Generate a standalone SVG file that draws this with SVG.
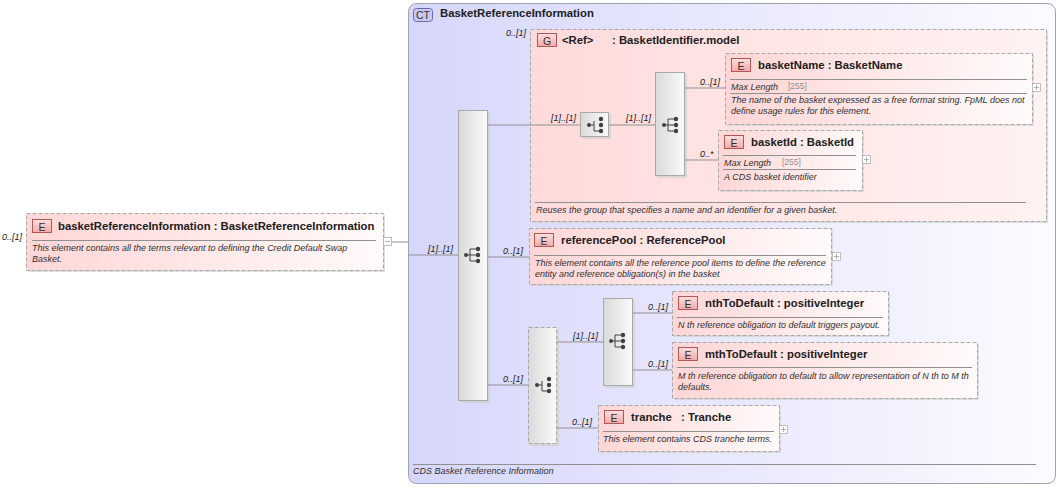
<svg xmlns="http://www.w3.org/2000/svg" xmlns:xlink="http://www.w3.org/1999/xlink" width="1060" height="487" viewBox="0 0 1060 487">
<defs>
<linearGradient id="ctGrad" x1="0" y1="0" x2="1" y2="0"><stop offset="0" stop-color="#d6d6fb"/><stop offset="1" stop-color="#fbfbff"/></linearGradient>
<linearGradient id="elGrad" x1="0" y1="0" x2="1" y2="0"><stop offset="0" stop-color="#ffd6d6"/><stop offset="1" stop-color="#fffafa"/></linearGradient>
<linearGradient id="grpGrad" x1="0" y1="0" x2="1" y2="0"><stop offset="0" stop-color="#ffdada"/><stop offset="1" stop-color="#fff2f2"/></linearGradient>
<linearGradient id="seqGrad" x1="0" y1="0" x2="1" y2="0"><stop offset="0" stop-color="#dadada"/><stop offset="1" stop-color="#fafafa"/></linearGradient>
<linearGradient id="badgeGrad" x1="0" y1="0" x2="0" y2="1"><stop offset="0" stop-color="#ffe0e0"/><stop offset="1" stop-color="#f4a8a8"/></linearGradient>
<g id="seqIcon" fill="#404040" stroke="#404040" stroke-width="1">
<line x1="-7" y1="0" x2="-3" y2="0"/><line x1="-3" y1="-6" x2="-3" y2="6"/>
<line x1="-3" y1="-6" x2="5" y2="-6"/><line x1="-3" y1="0" x2="5" y2="0"/><line x1="-3" y1="6" x2="5" y2="6"/>
<circle cx="-7" cy="0" r="2" stroke="none"/><circle cx="5" cy="-6" r="2.2" stroke="none"/><circle cx="5" cy="0" r="2.2" stroke="none"/><circle cx="5" cy="6" r="2.2" stroke="none"/>
</g>
<g id="choIcon" fill="#404040" stroke="#404040" stroke-width="1">
<line x1="-6" y1="0" x2="-1" y2="0"/><line x1="-1" y1="-4" x2="-1" y2="6"/><line x1="-1" y1="6" x2="6" y2="6"/>
<circle cx="-6" cy="0" r="2" stroke="none"/><circle cx="6" cy="-6" r="2.2" stroke="none"/><circle cx="6" cy="0" r="2.2" stroke="none"/><circle cx="6" cy="6" r="2.2" stroke="none"/>
</g>
</defs>
<style>
text{font-family:"Liberation Sans",Arial,sans-serif;fill:#202020}
.title{font-size:11.3px;font-weight:bold}
.desc{font-size:9px;font-style:italic;fill:#303030}
.card{font-size:9px;font-style:italic;fill:#202020}
.grey{font-size:8.5px;fill:#909090}
.badge{font-size:10.5px;fill:#303030}
.el{fill:url(#elGrad);stroke:#a8a8a8;stroke-dasharray:4,2;stroke-width:1}
.shadow{fill:#d0d0d0;opacity:0.7}
.sep{stroke:#909090;stroke-width:1}
.eb{fill:url(#badgeGrad);stroke:#b05858;stroke-width:1}
.seq{fill:url(#seqGrad);stroke:#a8a8a8;stroke-width:1}
.cho{fill:url(#seqGrad);stroke:#a8a8a8;stroke-width:1;stroke-dasharray:4,2}
.pm{fill:#ffffff;stroke:#b0b0b0;stroke-width:0.8}
.pml{stroke:#a0a0a0;stroke-width:0.8}
.conn{stroke:#909090;stroke-width:1;fill:none}
</style>

<g id="ct-BasketReferenceInformation">
<rect x="408.5" y="3.5" width="647" height="480" rx="8" fill="url(#ctGrad)" stroke="#a0a0b4" stroke-width="1"/>
<rect x="413.5" y="8.5" width="19" height="13" rx="3" fill="#c8c8f0" stroke="#6a6aa0"/>
<text x="423" y="18.5" class="badge" text-anchor="middle">CT</text>
<text x="440" y="17" class="title">BasketReferenceInformation</text>
<line x1="413" y1="464.5" x2="1036" y2="464.5" class="sep"/>
<text x="413" y="474" class="desc">CDS Basket Reference Information</text>
</g>

<g id="el-basketReferenceInformation">
<rect x="28" y="215" width="357" height="57" class="shadow"/>
<rect x="26.5" y="213.5" width="357" height="57" class="el"/>
<rect x="32.5" y="219.5" width="19" height="13" class="eb"/>
<text x="42" y="230.5" class="badge" text-anchor="middle">E</text>
<text x="58" y="230" class="title">basketReferenceInformation : BasketReferenceInformation</text>
<line x1="32" y1="240.5" x2="376" y2="240.5" class="sep"/>
<text x="32" y="251" class="desc">This element contains all the terms relevant to defining the Credit Default Swap</text>
<text x="32" y="262" class="desc">Basket.</text>
<text x="2" y="240" class="card">0..[1]</text>
<rect x="383.5" y="237.5" width="8" height="8" class="pm"/>
<line x1="385" y1="241.5" x2="390" y2="241.5" class="pml"/>
</g>

<g id="seq-main">
<rect x="460" y="112" width="30" height="291" class="shadow"/>
<rect x="458.5" y="110.5" width="29" height="290" class="seq"/>
<use xlink:href="#seqIcon" x="473" y="255"/>
<text x="428" y="252" class="card">[1]..[1]</text>
</g>

<g id="grp-BasketIdentifier">
<rect x="532" y="31" width="516" height="192" class="shadow"/>
<rect x="530.5" y="29.5" width="516" height="192" fill="url(#grpGrad)" stroke="#a8a8a8" stroke-dasharray="4,2"/>
<text x="506" y="36" class="card">0..[1]</text>
<rect x="537.5" y="33.5" width="19" height="13" class="eb"/>
<text x="547" y="44.5" class="badge" text-anchor="middle">G</text>
<text x="562" y="43.5" class="title">&lt;Ref&gt;</text>
<text x="612" y="43.5" class="title">: BasketIdentifier.model</text>
<line x1="535" y1="202.5" x2="1026" y2="202.5" class="sep"/>
<text x="536" y="213" class="desc">Reuses the group that specifies a name and an identifier for a given basket.</text>
</g>

<g id="cho-group">
<rect x="582" y="114" width="29" height="25" class="shadow"/>
<rect x="580.5" y="112.5" width="28" height="24" class="seq"/>
<use xlink:href="#choIcon" x="595" y="125"/>
<text x="551" y="121" class="card">[1]..[1]</text>
</g>

<g id="seq-group">
<rect x="657" y="74" width="30" height="104" class="shadow"/>
<rect x="655.5" y="72.5" width="29" height="103" class="seq"/>
<use xlink:href="#seqIcon" x="671" y="125"/>
<text x="626" y="121" class="card">[1]..[1]</text>
</g>

<g id="el-basketName">
<rect x="727" y="55" width="307" height="71" class="shadow"/>
<rect x="725.5" y="53.5" width="307" height="71" class="el"/>
<rect x="731.5" y="58.5" width="19" height="13" class="eb"/>
<text x="741" y="69.5" class="badge" text-anchor="middle">E</text>
<text x="758" y="68.5" class="title">basketName : BasketName</text>
<line x1="730" y1="79.5" x2="1027" y2="79.5" class="sep"/>
<text x="731" y="90" class="desc">Max Length</text>
<text x="788" y="89" class="grey">[255]</text>
<line x1="730" y1="93.5" x2="1027" y2="93.5" class="sep"/>
<text x="731" y="103" class="desc">The name of the basket expressed as a free format string. FpML does not</text>
<text x="731" y="114" class="desc">define usage rules for this element.</text>
<text x="700" y="85" class="card">0..[1]</text>
<rect x="1032.5" y="83.5" width="8" height="8" class="pm"/>
<line x1="1034" y1="87.5" x2="1039" y2="87.5" class="pml"/>
<line x1="1036.5" y1="85" x2="1036.5" y2="90" class="pml"/>
</g>

<g id="el-basketId">
<rect x="720" y="132" width="144" height="60" class="shadow"/>
<rect x="718.5" y="130.5" width="144" height="60" class="el"/>
<rect x="724.5" y="135.5" width="19" height="13" class="eb"/>
<text x="734" y="146.5" class="badge" text-anchor="middle">E</text>
<text x="751" y="145.5" class="title">basketId : BasketId</text>
<line x1="723" y1="155.5" x2="856" y2="155.5" class="sep"/>
<text x="724" y="166" class="desc">Max Length</text>
<text x="782" y="165" class="grey">[255]</text>
<line x1="723" y1="169.5" x2="856" y2="169.5" class="sep"/>
<text x="724" y="180" class="desc">A CDS basket identifier</text>
<text x="700" y="157" class="card">0..*</text>
<rect x="862.5" y="155.5" width="8" height="8" class="pm"/>
<line x1="864" y1="159.5" x2="869" y2="159.5" class="pml"/>
<line x1="866.5" y1="157" x2="866.5" y2="162" class="pml"/>
</g>

<g id="el-referencePool">
<rect x="531" y="230" width="302" height="56" class="shadow"/>
<rect x="529.5" y="228.5" width="302" height="56" class="el"/>
<rect x="534.5" y="233.5" width="19" height="13" class="eb"/>
<text x="544" y="244.5" class="badge" text-anchor="middle">E</text>
<text x="561" y="244" class="title">referencePool : ReferencePool</text>
<line x1="534" y1="255.5" x2="826" y2="255.5" class="sep"/>
<text x="535" y="266" class="desc">This element contains all the reference pool items to define the reference</text>
<text x="535" y="277" class="desc">entity and reference obligation(s) in the basket</text>
<text x="503" y="254" class="card">0..[1]</text>
<rect x="832.5" y="252.5" width="8" height="8" class="pm"/>
<line x1="834" y1="256.5" x2="839" y2="256.5" class="pml"/>
<line x1="836.5" y1="254" x2="836.5" y2="259" class="pml"/>
</g>

<g id="cho-main">
<rect x="530" y="329" width="29" height="117" class="shadow"/>
<rect x="528.5" y="327.5" width="28" height="116" class="cho"/>
<use xlink:href="#choIcon" x="543" y="385"/>
<text x="503" y="382" class="card">0..[1]</text>
</g>

<g id="seq-nth">
<rect x="605" y="300" width="30" height="88" class="shadow"/>
<rect x="603.5" y="298.5" width="29" height="87" class="seq"/>
<use xlink:href="#seqIcon" x="618" y="341"/>
<text x="573" y="339" class="card">[1]..[1]</text>
</g>

<g id="el-nthToDefault">
<rect x="674" y="293" width="216" height="44" class="shadow"/>
<rect x="672.5" y="291.5" width="216" height="44" class="el"/>
<rect x="678.5" y="296.5" width="19" height="13" class="eb"/>
<text x="688" y="307.5" class="badge" text-anchor="middle">E</text>
<text x="705" y="306.5" class="title">nthToDefault : positiveInteger</text>
<line x1="677" y1="317.5" x2="883" y2="317.5" class="sep"/>
<text x="678" y="328" class="desc">N th reference obligation to default triggers payout.</text>
<text x="648" y="310" class="card">0..[1]</text>
</g>

<g id="el-mthToDefault">
<rect x="674" y="344" width="305" height="56" class="shadow"/>
<rect x="672.5" y="342.5" width="305" height="56" class="el"/>
<rect x="678.5" y="347.5" width="19" height="13" class="eb"/>
<text x="688" y="358.5" class="badge" text-anchor="middle">E</text>
<text x="705" y="357.5" class="title">mthToDefault : positiveInteger</text>
<line x1="677" y1="367.5" x2="972" y2="367.5" class="sep"/>
<text x="678" y="379" class="desc">M th reference obligation to default to allow representation of N th to M th</text>
<text x="678" y="390" class="desc">defaults.</text>
<text x="648" y="367" class="card">0..[1]</text>
</g>

<g id="el-tranche">
<rect x="600" y="407" width="181" height="46" class="shadow"/>
<rect x="598.5" y="405.5" width="181" height="46" class="el"/>
<rect x="604.5" y="410.5" width="19" height="13" class="eb"/>
<text x="614" y="421.5" class="badge" text-anchor="middle">E</text>
<text x="631" y="421" class="title">tranche</text>
<text x="681" y="421" class="title">: Tranche</text>
<line x1="603" y1="431.5" x2="774" y2="431.5" class="sep"/>
<text x="603" y="442" class="desc">This element contains CDS tranche terms.</text>
<text x="572" y="425" class="card">0..[1]</text>
<rect x="779.5" y="425.5" width="8" height="8" class="pm"/>
<line x1="781" y1="429.5" x2="786" y2="429.5" class="pml"/>
<line x1="783.5" y1="427" x2="783.5" y2="432" class="pml"/>
</g>

<g id="connectors">
<path class="conn" d="M392 242H408M408 255H458"/>
<path class="conn" d="M488 125H580M609 125H655"/>
<path class="conn" d="M685 88H725M685 160H718"/>
<path class="conn" d="M488 257H529M488 385H528"/>
<path class="conn" d="M557 342H603M557 428H598"/>
<path class="conn" d="M633 313H672M633 370H672"/>
</g>
</svg>
